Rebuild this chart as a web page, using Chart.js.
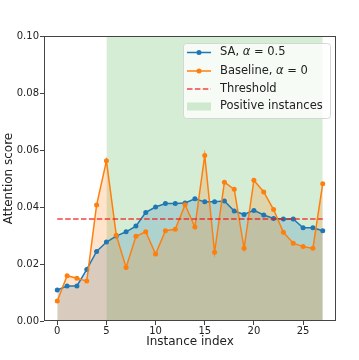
<!DOCTYPE html>
<html lang="en">
<head>
  <meta charset="UTF-8">
  <title>Attention score</title>
  <script src="https://cdn.jsdelivr.net/npm/chart.js@4.4.0/dist/chart.umd.min.js"></script>
  <style>
    body { margin: 0; background: #fff; }
    #chart { display: block; }
  </style>
</head>
<body>
  <canvas id="chart" width="359" height="360"></canvas>
  <script>
    // data
    var instanceIndex = [0, 1, 2, 3, 4, 5, 6, 7, 8, 9, 10, 11, 12, 13, 14, 15, 16, 17, 18, 19, 20, 21, 22, 23, 24, 25, 26, 27]
    var saScores = [0.0109, 0.0123, 0.0123, 0.0181, 0.0244, 0.0277, 0.0298, 0.0313, 0.0333, 0.0381, 0.0400, 0.0412, 0.0412, 0.0414,
      0.0429, 0.0418, 0.0418, 0.0421, 0.0386, 0.0374, 0.0388, 0.0372, 0.0360, 0.0358, 0.0358, 0.0327, 0.0327, 0.0317]
    var baselineScores = [0.0070, 0.0159, 0.0150, 0.0140, 0.0407, 0.0562, 0.0301, 0.0188, 0.0297, 0.0313, 0.0235, 0.0317, 0.0322, 0.0408,
      0.0330, 0.0581, 0.0241, 0.0487, 0.0462, 0.0255, 0.0494, 0.0453, 0.0391, 0.0311, 0.0273, 0.0261, 0.0255, 0.0482]
    var threshold = 0.0358
    var positiveStart = 5
    var positiveEnd = 27
    var xTicks = [0, 5, 10, 15, 20, 25]
    var yTicks = [0, 0.02, 0.04, 0.06, 0.08, 0.10]

    var BLUE = '#1f77b4'
    var ORANGE = '#ff7f0e'
    var RED = 'rgba(240,20,20,0.8)'
    var GREEN = 'rgba(44,160,44,0.2)'
    var FONT = 'DejaVu Sans'

    function toPoints(ys) {
      return instanceIndex.map((x, i) => ({ x: x, y: ys[i] }))
    }

    // box round the plot + legend inside the axes
    var framePlugin = {
      id: 'frame',
      afterDraw(chart) {
        const ctx = chart.ctx
        const a = chart.chartArea
        ctx.save()
        ctx.strokeStyle = '#444'
        ctx.lineWidth = 1
        ctx.strokeRect(a.left + 0.5, a.top + 0.5, a.right - a.left - 1, a.bottom - a.top - 1)

        // legend
        const lx = 183, ly = 43, lw = 147, lh = 75
        ctx.beginPath()
        ctx.roundRect(lx + 0.5, ly + 0.5, lw, lh, 3)
        ctx.fillStyle = 'rgba(255,255,255,0.8)'
        ctx.fill()
        ctx.strokeStyle = '#d6d6d6'
        ctx.stroke()

        const rows = [52.5, 71, 89, 106.5]
        const sx = 187, ex = 211, tx = 220
        ctx.lineWidth = 1.5
        // SA and baseline
        ;[[BLUE, rows[0]], [ORANGE, rows[1]]].forEach(([c, y]) => {
          ctx.strokeStyle = c
          ctx.beginPath(); ctx.moveTo(sx, y); ctx.lineTo(ex, y); ctx.stroke()
          ctx.fillStyle = c
          ctx.beginPath(); ctx.arc((sx + ex) / 2, y, 2.5, 0, Math.PI * 2); ctx.fill()
        })
        // threshold
        ctx.strokeStyle = RED
        ctx.setLineDash([5.5, 2.4])
        ctx.beginPath(); ctx.moveTo(sx, rows[2]); ctx.lineTo(ex, rows[2]); ctx.stroke()
        ctx.setLineDash([])
        // patch
        ctx.fillStyle = GREEN
        ctx.fillRect(sx, rows[3] - 4, ex - sx, 8)

        ctx.fillStyle = '#222'
        ctx.textBaseline = 'middle'
        function mathLabel(y, pre, val) {
          ctx.font = '11.5px "' + FONT + '"'
          ctx.fillText(pre, tx, y)
          let x = tx + ctx.measureText(pre).width
          ctx.font = 'italic 11.5px "' + FONT + '"'
          ctx.fillText('α', x, y)
          x += ctx.measureText('α').width
          ctx.font = '11.5px "' + FONT + '"'
          ctx.fillText(' = ' + val, x, y)
        }
        mathLabel(rows[0], 'SA, ', '0.5')
        mathLabel(rows[1], 'Baseline, ', '0')
        ctx.font = '11.5px "' + FONT + '"'
        ctx.fillText('Threshold', tx, rows[2])
        ctx.fillText('Positive instances', tx, rows[3])
        ctx.restore()
      }
    }

    var ctx = document.getElementById('chart').getContext('2d')
    var chart = new Chart(ctx, {
      type: 'line',
      data: {
        datasets: [{
          label: 'Threshold',
          data: [{ x: instanceIndex[0], y: threshold }, { x: instanceIndex[instanceIndex.length - 1], y: threshold }],
          borderColor: RED,
          borderWidth: 1.5,
          borderDash: [5.5, 2.4],
          pointRadius: 0,
          fill: false,
          order: 1
        }, {
          label: 'Baseline, α = 0',
          data: toPoints(baselineScores),
          borderColor: ORANGE,
          backgroundColor: 'rgba(255,127,14,0.22)',
          borderWidth: 1.5,
          pointRadius: 2.5,
          pointBackgroundColor: ORANGE,
          pointBorderWidth: 0,
          fill: 'origin',
          order: 2
        }, {
          label: 'SA, α = 0.5',
          data: toPoints(saScores),
          borderColor: BLUE,
          backgroundColor: 'rgba(31,119,180,0.22)',
          borderWidth: 1.5,
          pointRadius: 2.5,
          pointBackgroundColor: BLUE,
          pointBorderWidth: 0,
          fill: 'origin',
          order: 3
        }, {
          label: 'Positive instances',
          data: [{ x: positiveStart, y: yTicks[yTicks.length - 1] }, { x: positiveEnd, y: yTicks[yTicks.length - 1] }],
          borderWidth: 0,
          borderColor: 'rgba(0,0,0,0)',
          backgroundColor: GREEN,
          pointRadius: 0,
          fill: 'origin',
          order: 4
        }]
      },
      options: {
        responsive: false,
        animation: false,
        layout: { padding: { top: 36, right: 23, left: 0, bottom: 0 } },
        plugins: {
          legend: { display: false },
          tooltip: { enabled: false },
          filler: { drawTime: 'beforeDatasetsDraw' }
        },
        scales: {
          x: {
            type: 'linear',
            min: -1.35,
            max: 28.35,
            afterBuildTicks: s => { s.ticks = xTicks.map(v => ({ value: v })) },
            afterFit: s => { s.height = 39 },
            grid: { drawOnChartArea: false, drawTicks: true, tickLength: 4, color: '#444' },
            border: { display: false },
            ticks: { font: { family: FONT, size: 10 }, color: '#222', padding: 0, maxRotation: 0 },
            title: { display: true, text: 'Instance index', font: { family: FONT, size: 12 }, color: '#222', padding: { top: 0, bottom: 11 } }
          },
          y: {
            min: 0,
            max: 0.1,
            afterBuildTicks: s => { s.ticks = yTicks.map(v => ({ value: v })) },
            afterFit: s => { s.width = 44 },
            grid: { drawOnChartArea: false, drawTicks: true, tickLength: 4, color: '#444' },
            border: { display: false },
            ticks: { font: { family: FONT, size: 10 }, color: '#222', padding: 1, callback: v => v.toFixed(2) },
            title: { display: true, text: 'Attention score', font: { family: FONT, size: 12 }, color: '#222', padding: { top: 2, bottom: 0 } }
          }
        }
      },
      plugins: [framePlugin]
    })
  </script>
</body>
</html>
